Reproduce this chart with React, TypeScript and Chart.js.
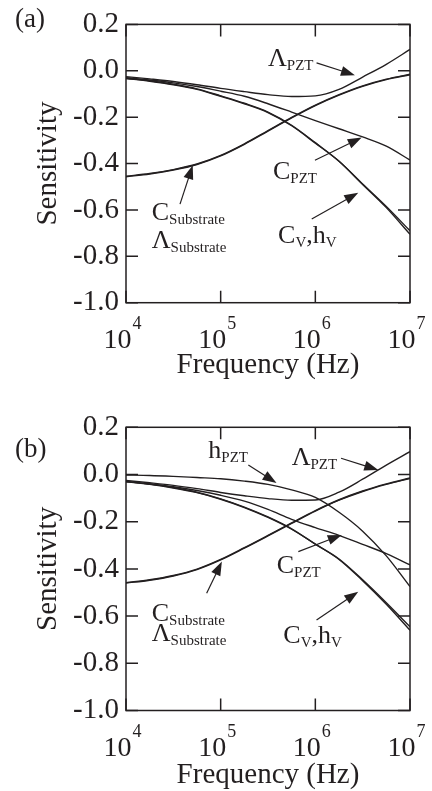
import React, { useEffect, useRef } from 'react';
import { Chart, registerables } from 'chart.js';

Chart.register(...registerables);

const SERIF = '"Liberation Serif", "Times New Roman", serif';
const INK = '#231f20';

// Frequencies (Hz) sampled at quarter decades
const FREQ = [1e4, 1.78e4, 3.16e4, 5.62e4, 1e5, 1.78e5, 3.16e5, 5.62e5, 1e6, 1.78e6, 3.16e6, 5.62e6, 1e7];
const X_TICKS = [1e4, 1e5, 1e6, 1e7];
const X_EXPONENTS = ['4', '5', '6', '7'];
const Y_TICKS = [0.2, 0, -0.2, -0.4, -0.6, -0.8, -1.0];

// Panel (a)
const A_LAMBDA_PZT = [-0.025, -0.035, -0.046, -0.06, -0.076, -0.09, -0.103, -0.111, -0.108, -0.08, -0.027, 0.028, 0.092];
const A_C_PZT = [-0.03, -0.04, -0.052, -0.068, -0.088, -0.11, -0.142, -0.178, -0.215, -0.25, -0.285, -0.325, -0.385];
const A_C_SUB = [-0.455, -0.443, -0.426, -0.402, -0.365, -0.315, -0.258, -0.201, -0.148, -0.103, -0.065, -0.036, -0.015];
const A_LAMBDA_SUB = [-0.457, -0.445, -0.428, -0.404, -0.367, -0.317, -0.26, -0.203, -0.15, -0.105, -0.067, -0.038, -0.017];
const A_C_V = [-0.032, -0.043, -0.058, -0.078, -0.108, -0.14, -0.178, -0.235, -0.31, -0.39, -0.49, -0.59, -0.705];
const A_H_V = [-0.033, -0.045, -0.06, -0.08, -0.11, -0.142, -0.18, -0.237, -0.312, -0.39, -0.488, -0.585, -0.69];

// Panel (b)
const B_H_PZT = [-0.002, -0.004, -0.008, -0.013, -0.018, -0.028, -0.042, -0.065, -0.097, -0.16, -0.24, -0.345, -0.475];
const B_LAMBDA_PZT = [-0.025, -0.035, -0.046, -0.06, -0.076, -0.09, -0.102, -0.109, -0.108, -0.075, -0.02, 0.04, 0.097];
const B_C_PZT = [-0.03, -0.04, -0.052, -0.068, -0.088, -0.113, -0.148, -0.19, -0.225, -0.258, -0.296, -0.335, -0.383];
const B_C_SUB = [-0.458, -0.446, -0.428, -0.401, -0.36, -0.31, -0.258, -0.205, -0.153, -0.107, -0.07, -0.04, -0.015];
const B_LAMBDA_SUB = [-0.46, -0.448, -0.43, -0.403, -0.362, -0.312, -0.26, -0.207, -0.155, -0.109, -0.072, -0.042, -0.017];
const B_C_V = [-0.03, -0.04, -0.055, -0.075, -0.103, -0.138, -0.18, -0.23, -0.295, -0.36, -0.45, -0.55, -0.66];
const B_H_V = [-0.031, -0.042, -0.057, -0.077, -0.105, -0.14, -0.182, -0.232, -0.295, -0.358, -0.446, -0.543, -0.645];

type Seg = [string, boolean];
type Note = { segs: Seg[]; at: [number, number]; from?: [number, number]; to?: [number, number] };

const A_NOTES: Note[] = [
  { segs: [['Λ', false], ['PZT', true]], at: [3.16e5, 0.02], from: [1.03e6, 0.034], to: [2.62e6, -0.019] },
  { segs: [['C', false], ['PZT', true]], at: [3.57e5, -0.467], from: [9.9e5, -0.386], to: [3.09e6, -0.288] },
  { segs: [['C', false], ['V', true], [',', false], ['h', false], ['V', true]], at: [4.04e5, -0.741], from: [9.16e5, -0.639], to: [2.84e6, -0.526] },
  { segs: [['C', false], ['Substrate', true]], at: [1.87e4, -0.644], from: [3.72e4, -0.575], to: [5.07e4, -0.407] },
  { segs: [['Λ', false], ['Substrate', true]], at: [1.87e4, -0.764] },
];

const B_NOTES: Note[] = [
  { segs: [['h', false], ['PZT', true]], at: [7.4e4, 0.07], from: [1.96e5, 0.04], to: [3.89e5, -0.036] },
  { segs: [['Λ', false], ['PZT', true]], at: [5.62e5, 0.04], from: [1.87e6, 0.069], to: [4.62e6, 0.019] },
  { segs: [['C', false], ['PZT', true]], at: [3.91e5, -0.417], from: [6.61e5, -0.327], to: [1.9e6, -0.256] },
  { segs: [['C', false], ['V', true], [',', false], ['h', false], ['V', true]], at: [4.59e5, -0.712], from: [1.03e6, -0.617], to: [2.84e6, -0.497] },
  { segs: [['C', false], ['Substrate', true]], at: [1.87e4, -0.621], from: [7.11e4, -0.503], to: [1.03e5, -0.369] },
  { segs: [['Λ', false], ['Substrate', true]], at: [1.87e4, -0.706] },
];

type PanelDef = {
  tag: string;
  tagBaseline: number;
  height: number;
  padTop: number;
  xAxisHeight: number;
  xTitlePad: number;
  series: number[][];
  notes: Note[];
};

const PANELS: PanelDef[] = [
  { tag: '(a)', tagBaseline: 26.6, height: 395, padTop: 17.3, xAxisHeight: 92.3, xTitlePad: 12.4,
    series: [A_LAMBDA_PZT, A_C_PZT, A_C_SUB, A_LAMBDA_SUB, A_C_V, A_H_V], notes: A_NOTES },
  { tag: '(b)', tagBaseline: 62, height: 396, padTop: 32.3, xAxisHeight: 80.5, xTitlePad: -2,
    series: [B_H_PZT, B_LAMBDA_PZT, B_C_PZT, B_C_SUB, B_LAMBDA_SUB, B_C_V, B_H_V], notes: B_NOTES },
];

function drawArrow(ctx: CanvasRenderingContext2D, x1: number, y1: number, x2: number, y2: number) {
  const ang = Math.atan2(y2 - y1, x2 - x1);
  const L = 14, W = 5;
  const c = Math.cos(ang), s = Math.sin(ang);
  const bx = x2 - L * c, by = y2 - L * s;
  ctx.beginPath();
  ctx.moveTo(x1, y1);
  ctx.lineTo(bx + 2 * c, by + 2 * s);
  ctx.stroke();
  ctx.beginPath();
  ctx.moveTo(x2, y2);
  ctx.lineTo(bx - W * s, by + W * c);
  ctx.lineTo(bx + W * s, by - W * c);
  ctx.closePath();
  ctx.fill();
}

function makeDecor(p: PanelDef) {
  return {
    id: 'decor',
    afterDraw(chart: any) {
      const { ctx, chartArea, scales } = chart;
      const { left, right, top, bottom } = chartArea;
      const x = scales.x, y = scales.y;
      ctx.save();
      ctx.strokeStyle = INK;
      ctx.fillStyle = INK;
      ctx.lineWidth = 1.5;
      ctx.strokeRect(left, top, right - left, bottom - top);
      ctx.beginPath();
      for (const v of Y_TICKS) {
        const py = y.getPixelForValue(v);
        ctx.moveTo(left, py); ctx.lineTo(left + 12, py);
        ctx.moveTo(right, py); ctx.lineTo(right - 12, py);
      }
      for (const f of X_TICKS) {
        const px = x.getPixelForValue(f);
        ctx.moveTo(px, bottom); ctx.lineTo(px, bottom - 12);
        ctx.moveTo(px, top); ctx.lineTo(px, top + 12);
      }
      ctx.stroke();

      ctx.textBaseline = 'alphabetic';
      X_TICKS.forEach((f, i) => {
        const px = x.getPixelForValue(f);
        ctx.font = `28px ${SERIF}`;
        ctx.textAlign = 'right';
        ctx.fillText('10', px + 5.5, bottom + 45.6);
        ctx.font = `18px ${SERIF}`;
        ctx.textAlign = 'left';
        ctx.fillText(X_EXPONENTS[i], px + 6.5, bottom + 26.5);
      });

      ctx.font = `27px ${SERIF}`;
      ctx.textAlign = 'left';
      ctx.fillText(p.tag, 15, p.tagBaseline);

      ctx.lineWidth = 1.2;
      for (const n of p.notes) {
        let cx = x.getPixelForValue(n.at[0]);
        const cy = y.getPixelForValue(n.at[1]);
        for (const [t, sub] of n.segs) {
          ctx.font = sub ? `15px ${SERIF}` : `26px ${SERIF}`;
          ctx.fillText(t, cx, sub ? cy + 4 : cy);
          cx += ctx.measureText(t).width;
        }
        if (n.from && n.to) {
          drawArrow(ctx,
            x.getPixelForValue(n.from[0]), y.getPixelForValue(n.from[1]),
            x.getPixelForValue(n.to[0]), y.getPixelForValue(n.to[1]));
        }
      }
      ctx.restore();
    },
  };
}

function Panel({ p }: { p: PanelDef }) {
  const ref = useRef<HTMLCanvasElement>(null);
  useEffect(() => {
    const chart = new Chart(ref.current as HTMLCanvasElement, {
      type: 'line',
      data: {
        datasets: p.series.map((s, i) => ({
          label: `s${i}`,
          data: s.map((v, j) => ({ x: FREQ[j], y: v })),
          borderColor: INK,
          borderWidth: 1.4,
          pointRadius: 0,
          fill: false,
          cubicInterpolationMode: 'monotone' as const,
        })),
      },
      options: {
        responsive: false,
        animation: false,
        layout: { padding: { left: 0, right: 22, top: p.padTop, bottom: 0 } },
        plugins: { legend: { display: false }, tooltip: { enabled: false } },
        scales: {
          x: {
            type: 'logarithmic',
            min: 1e4,
            max: 1e7,
            grid: { display: false, drawTicks: false },
            border: { display: false },
            ticks: { display: false },
            title: {
              display: true,
              text: 'Frequency (Hz)',
              color: INK,
              font: { family: SERIF, size: 29 },
              padding: { top: 0, bottom: p.xTitlePad },
            },
            afterFit: (s: any) => { s.height = p.xAxisHeight; },
          },
          y: {
            type: 'linear',
            min: -1,
            max: 0.2,
            grid: { display: false, drawTicks: false },
            border: { display: false },
            ticks: {
              stepSize: 0.2,
              padding: 7,
              color: INK,
              font: { family: SERIF, size: 29 },
              callback: (v: any) => {
                const n = Number(v);
                return Math.abs(n) < 1e-9 ? '0.0' : n.toFixed(1);
              },
            },
            title: {
              display: true,
              text: 'Sensitivity',
              color: INK,
              font: { family: SERIF, size: 29 },
              padding: { top: 30.6, bottom: 0 },
            },
            afterFit: (s: any) => { s.width = 126; },
          },
        },
      },
      plugins: [makeDecor(p)],
    } as any);
    return () => chart.destroy();
  }, [p]);
  return <canvas ref={ref} width={432} height={p.height} style={{ display: 'block' }} />;
}

export default function App() {
  return (
    <div style={{ position: 'absolute', left: 0, top: 0, width: 432, height: 791, background: '#fff' }}>
      <div style={{ position: 'absolute', left: 0, top: 0 }}>
        <Panel p={PANELS[0]} />
      </div>
      <div style={{ position: 'absolute', left: 0, top: 395 }}>
        <Panel p={PANELS[1]} />
      </div>
    </div>
  );
}
